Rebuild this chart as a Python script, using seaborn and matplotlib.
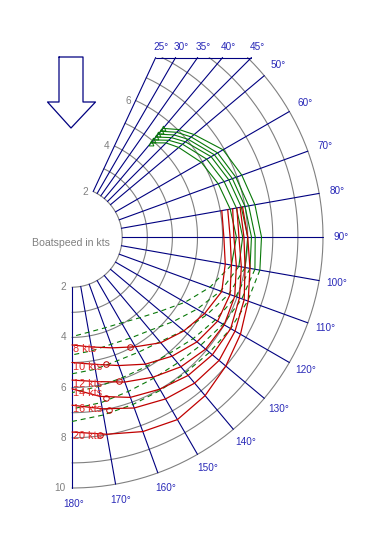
import numpy as np
import pandas as pd
import matplotlib
matplotlib.use("Agg")
import matplotlib.pyplot as plt
import seaborn as sns

# 极坐标船速图 (polar diagram), boatspeed in kts vs true wind angle

wind_speeds = [8, 10, 12, 14, 16, 20]
wind_labels = ["8 kts", "10 kts", "12 kts", "14 kts", "16 kts", "20 kts"]

# upwind sails, solid part
beat_angles = [40, 45, 50, 60, 70, 80, 90, 100]
beat_speeds = [
    [4.90, 5.30, 5.55, 5.95, 6.20, 6.40, 6.55, 6.45],
    [5.05, 5.45, 5.75, 6.20, 6.45, 6.65, 6.80, 6.75],
    [5.20, 5.60, 5.90, 6.40, 6.65, 6.85, 7.00, 7.00],
    [5.35, 5.75, 6.05, 6.55, 6.80, 7.00, 7.15, 7.20],
    [5.50, 5.90, 6.20, 6.70, 6.95, 7.15, 7.30, 7.40],
    [5.65, 6.05, 6.35, 6.95, 7.20, 7.40, 7.55, 7.60],
]

# same sails further off the wind (dashed)
reach_angles = [100, 110, 120, 130, 140, 150, 160, 170, 180]
reach_speeds = [
    [6.45, 5.85, 5.20, 4.60, 4.20, 3.95, 3.85, 3.85, 3.97],
    [6.75, 6.30, 5.75, 5.25, 4.85, 4.65, 4.55, 4.60, 4.70],
    [7.00, 6.65, 6.20, 5.80, 5.45, 5.30, 5.25, 5.35, 5.45],
    [7.20, 6.95, 6.60, 6.30, 6.05, 5.95, 5.95, 6.05, 6.20],
    [7.40, 7.20, 6.95, 6.70, 6.55, 6.50, 6.55, 6.70, 6.85],
    [7.60, 7.45, 7.30, 7.15, 7.05, 7.05, 7.10, 7.20, 7.35],
]

# spinnaker
spi_angles = [80, 90, 100, 110, 120, 130, 140, 150, 160, 170, 180]
spi_speeds = [
    [6.06, 6.05, 6.20, 6.35, 6.10, 5.82, 5.50, 5.05, 4.70, 4.45, 4.30],
    [6.30, 6.30, 6.45, 6.70, 6.70, 6.50, 6.20, 5.85, 5.45, 5.15, 5.00],
    [6.50, 6.45, 6.65, 6.90, 7.00, 6.95, 6.75, 6.45, 6.15, 5.85, 5.70],
    [6.67, 6.65, 6.85, 7.10, 7.30, 7.30, 7.20, 7.00, 6.80, 6.45, 6.05],
    [6.80, 6.85, 7.00, 7.30, 7.50, 7.65, 7.60, 7.45, 7.25, 6.95, 6.70],
    [6.90, 7.00, 7.20, 7.47, 7.75, 8.00, 8.25, 8.40, 8.25, 7.98, 7.77],
]

# best vmg downwind
vmg_angles = [152, 165, 162, 168, 168, 172]
vmg_speeds = [4.95, 5.25, 6.05, 6.55, 7.05, 7.95]

ring_speeds = [2, 3, 4, 5, 6, 7, 8, 9, 10]
ring_labels_bottom = [2, 4, 6, 8, 10]
ring_labels_top = [2, 4, 6]
grid_angles = [25, 30, 35, 40, 45, 50, 60, 70, 80, 90, 100, 110, 120,
               130, 140, 150, 160, 170, 180]
top_angles = [25, 30, 35, 40, 45]

navy = "#000080"
grey = "#808080"
label_blue = "#2a2ab8"
red = "#c00000"
red_text = "#e02828"
green = "#087808"

S = 25.1            # pixels per knot
top_y = 7.15        # upper cut of the diagram (kts)


def to_xy(ang, r):
    a = np.radians(np.asarray(ang, dtype=float))
    r = np.asarray(r, dtype=float)
    return r * np.sin(a), r * np.cos(a)


def curves_frame(angles, speeds):
    rows = []
    for ws, sp in zip(wind_speeds, speeds):
        x, y = to_xy(angles, sp)
        rows.append(pd.DataFrame({"x": x, "y": y, "tws": ws}))
    return pd.concat(rows, ignore_index=True)


sns.set_style("white")
plt.rcParams["font.family"] = ["Liberation Sans", "DejaVu Sans"]

fig = plt.figure(figsize=(3.70, 5.41), dpi=100)
ax = fig.add_axes([0, 0, 1, 1])
ax.set_xlim(-72 / S, (370 - 72) / S)
ax.set_ylim((237 - 541) / S, 237 / S)
ax.set_aspect("equal")
ax.axis("off")

# rings
for r in ring_speeds:
    start = max(25.0, np.degrees(np.arccos(min(1.0, top_y / r))))
    t = np.linspace(start, 180, 200)
    x, y = to_xy(t, r)
    ax.plot(x, y, color=grey, lw=0.8, zorder=1)

# angle lines
for a in grid_angles:
    c = np.cos(np.radians(a))
    r_end = min(10.0, top_y / c) if c > 0.05 else 10.0
    if a == 45:
        r_end = top_y / c
    x, y = to_xy([a, a], [2, r_end])
    ax.plot(x, y, color=navy, lw=0.8, zorder=2)
    if a in top_angles:
        ax.text(x[1] - 2 / S, top_y + 11 / S, f"{a}°", color=label_blue,
                fontsize=7.2, ha="left", va="center")
    else:
        lx, ly = to_xy(a, 10 + 16 / S)
        ax.text(lx + 2 / S, ly, f"{a}°", color=label_blue, fontsize=7.2,
                ha="center", va="center")

# top border
x25, _ = to_xy(25, top_y / np.cos(np.radians(25)))
x45, _ = to_xy(45, top_y / np.cos(np.radians(45)))
ax.plot([x25, x45], [top_y, top_y], color=navy, lw=0.8, zorder=2)

# speed labels
for v in ring_labels_bottom:
    ax.text(-6 / S, -v, str(v), color=grey, fontsize=7.2, ha="right", va="center")
for v in ring_labels_top:
    x, y = to_xy(25, v)
    ax.text(x - 5 / S, y, str(v), color=grey, fontsize=7.2, ha="right", va="center")
ax.text(-1.5 / S, -5.5 / S, "Boatspeed in kts", color=grey, fontsize=7.6,
        ha="center", va="center")

# wind arrow
ax_px = np.array([59, 83, 83, 95.5, 71, 47.5, 59, 59])
ay_px = np.array([57, 57, 102, 102, 128, 102, 102, 57])
ax.plot((ax_px - 72) / S, (237 - ay_px) / S, color=navy, lw=0.9)

# polar curves
beat = curves_frame(beat_angles, beat_speeds)
sns.lineplot(data=beat, x="x", y="y", units="tws", estimator=None, sort=False,
             color=green, lw=0.8, ax=ax, zorder=3)
reach = curves_frame(reach_angles, reach_speeds)
sns.lineplot(data=reach, x="x", y="y", units="tws", estimator=None, sort=False,
             color=green, lw=0.8, linestyle=(0, (4.5, 3.5)), ax=ax, zorder=3)
spi = curves_frame(spi_angles, spi_speeds)
sns.lineplot(data=spi, x="x", y="y", units="tws", estimator=None, sort=False,
             color=red, lw=0.9, ax=ax, zorder=4)

# markers
bx, by = to_xy([beat_angles[0]] * len(wind_speeds), [s[0] for s in beat_speeds])
sns.lineplot(x=bx, y=by, sort=False, estimator=None, marker="^", linestyle="",
             mfc="none", mec=green, ms=3.5, mew=0.7, color=green, ax=ax, zorder=5)
vx, vy = to_xy(vmg_angles, vmg_speeds)
sns.lineplot(x=vx, y=vy, sort=False, estimator=None, marker="o", linestyle="",
             mfc="none", mec=red, ms=4, mew=0.7, color=red, ax=ax, zorder=5)

# wind speed labels
for lab, sp in zip(wind_labels, spi_speeds):
    ax.text(1 / S, -sp[-1] - 4 / S, lab, color=red_text, fontsize=7.8,
            ha="left", va="center", zorder=6)

fig.savefig("out.png", dpi=100)
